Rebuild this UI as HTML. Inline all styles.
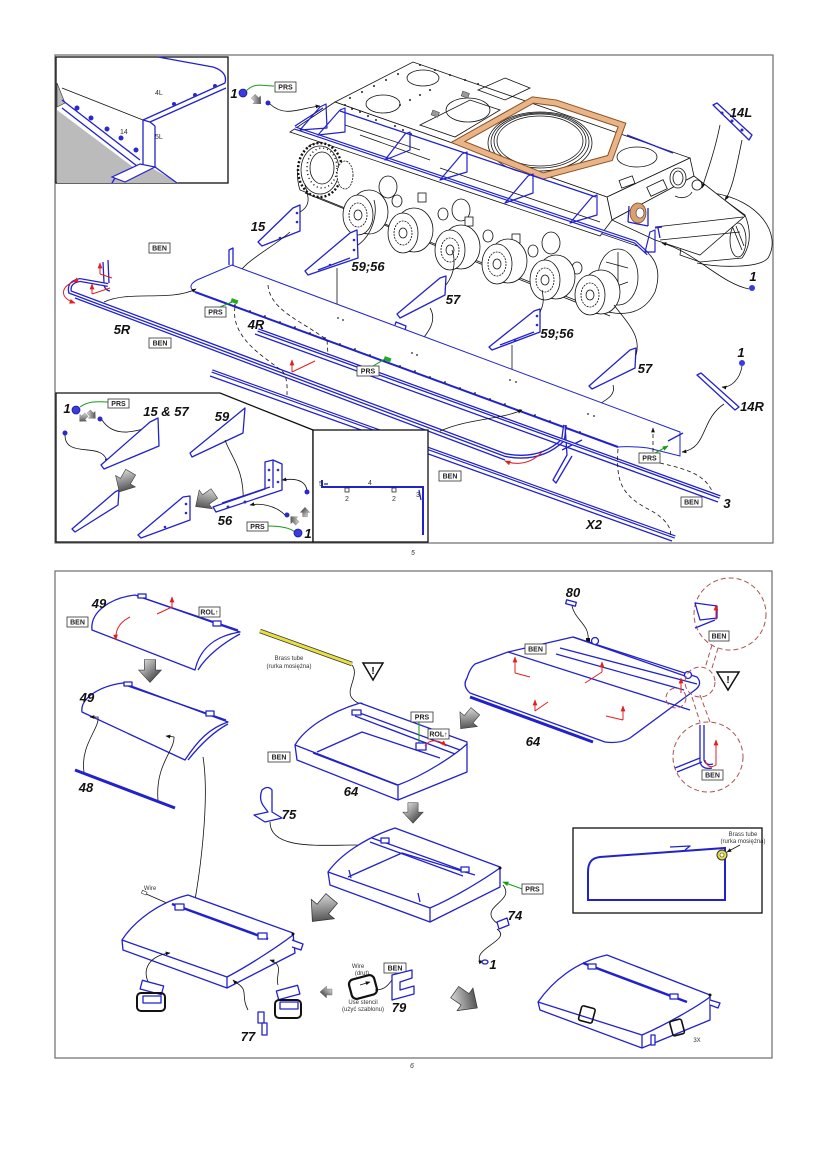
<!DOCTYPE html>
<html><head><meta charset="utf-8"><style>
html,body{margin:0;padding:0;background:#fff}
svg{display:block}
text{font-family:"Liberation Sans",sans-serif}
.L{font-weight:bold;font-style:italic;font-size:13px;fill:#111;text-anchor:middle}
.b{fill:#fff;stroke:#333;stroke-width:.8}
.bt{font-size:7px;font-weight:bold;text-anchor:middle;fill:#222}
.bl{fill:none;stroke:#2222cc;stroke-width:1.3;stroke-linejoin:round}
.bf{fill:#fff;stroke:#2222cc;stroke-width:1.3;stroke-linejoin:round}
.bn{fill:none;stroke:#2222cc;stroke-width:1.2;stroke-linejoin:round}
.bk{fill:none;stroke:#111;stroke-width:.8}
.kf{fill:#fff;stroke:#111;stroke-width:.8}
.ds{fill:none;stroke:#111;stroke-width:.8;stroke-dasharray:4 3}
.rd{fill:none;stroke:#e02020;stroke-width:1}
.gr{fill:none;stroke:#1a9a1a;stroke-width:1}
.ga{fill:url(#g);stroke:#333;stroke-width:.6}
.sm{font-size:6px;fill:#333;text-anchor:middle}
.cd{fill:none;stroke:#b05050;stroke-width:1;stroke-dasharray:5 3}
</style></head><body>
<svg width="827" height="1170" viewBox="0 0 827 1170" xmlns="http://www.w3.org/2000/svg">
<defs>
<linearGradient id="g" x1="0" y1="0" x2="1" y2="1"><stop offset="0" stop-color="#f2f2f2"/><stop offset="1" stop-color="#222"/></linearGradient>
<marker id="a" viewBox="0 0 10 10" refX="9" refY="5" markerWidth="6" markerHeight="6" orient="auto"><path d="M0,1 L10,5 L0,9 Z" fill="#111"/></marker>
<marker id="r" viewBox="0 0 10 10" refX="9" refY="5" markerWidth="6" markerHeight="6" orient="auto"><path d="M0,1 L10,5 L0,9 Z" fill="#e02020"/></marker>
<marker id="gm" viewBox="0 0 10 10" refX="9" refY="5" markerWidth="6" markerHeight="6" orient="auto"><path d="M0,1 L10,5 L0,9 Z" fill="#1a9a1a"/></marker>
</defs>

<!-- ================= TOP PANEL ================= -->
<rect x="55" y="55" width="718" height="488" fill="none" stroke="#777" stroke-width="1.3"/>

<!-- top-left inset -->
<rect x="56" y="57" width="172" height="126" fill="#fff" stroke="#111" stroke-width="1.3"/>
<polygon points="57,110 137,170 152,168 178,183 57,183" fill="#bbb"/>
<polygon points="57,83 65,103 57,107" fill="#bbb" stroke="#333" stroke-width=".6"/>
<path d="M62,88 L143,120" class="bk"/>
<path d="M65,104 L140,162" stroke="#fff" stroke-width="4" fill="none"/>
<path d="M62,100 L140,160 M62,108 L137,166" class="bl"/>
<g fill="#2a2acc"><circle cx="77" cy="108" r="2.5"/><circle cx="91" cy="118" r="2.5"/><circle cx="107" cy="129" r="2.5"/><circle cx="121" cy="138" r="2.5"/><circle cx="136" cy="150" r="2.5"/></g>
<path d="M143,120 L143,165 L115,178 L112,183 M155,126 L155,167 L177,183" class="bl"/>
<polygon points="112,177 140,164 155,167 125,182" fill="#fff" stroke="#2222cc" stroke-width="1.2"/>
<path d="M143,120 L225,83 Q228,72 213,67 L158,57 M150,122 L226,88" class="bl" stroke-width="1.8"/>
<path d="M143,120 L150,122 L155,126" class="bl"/>
<g fill="#2a2acc"><circle cx="174" cy="104" r="2"/><circle cx="195" cy="95" r="2"/><circle cx="215" cy="86" r="2"/></g>
<text x="155" y="95" font-size="7" fill="#333">4L</text>
<text x="120" y="134" font-size="7" fill="#333">14</text>
<text x="155" y="139" font-size="7" fill="#333">5L</text>

<!-- "1" nut top -->
<text x="234" y="98" class="L">1</text>
<circle cx="243" cy="93" r="4" fill="#3a3ae0" stroke="#1a1a90" stroke-width=".8"/>
<path d="M246,91 C255,82 262,86 274,86" class="gr"/>
<rect x="275" y="82" width="21" height="10" class="b"/><text x="285.5" y="89.5" class="bt">PRS</text>
<path transform="translate(257,100) rotate(-45) scale(.45)" d="M-6,-12 L6,-12 L6,-1 L12,-1 L0,12 L-12,-1 L-6,-1 Z" class="ga"/>
<circle cx="268" cy="103" r="2.5" fill="#2a2acc"/>
<path d="M270,104 C285,118 300,108 320,106" class="bk" marker-end="url(#a)"/>

<!-- ===== TANK ===== -->
<path d="M690,175 L745,215 Q755,240 742,258 L700,262 L680,255 Z" class="kf"/>
<path d="M713,193 C760,200 782,235 768,258 C760,268 720,268 697,263" class="bk"/>
<ellipse cx="738" cy="240" rx="8" ry="17" class="kf"/>
<path d="M733,228 L742,250 M736,226 L744,246" class="bk"/>
<path d="M310,145 Q292,165 300,190 L600,310 Q640,322 655,292 Q665,262 640,247 L330,140 Z" class="kf"/>
<path d="M305,193 L610,316" class="bk"/>
<polygon points="335,102 413,62 690,158 607,197" class="kf"/>
<polygon points="607,197 690,158 694,176 612,220" class="kf"/>
<polygon points="612,220 694,176 745,216 700,255 655,240" class="kf"/>
<path d="M655,227 L743,217 M660,240 L740,232" class="bk"/>
<polygon points="290,132 335,102 607,197 612,220 600,236" class="kf"/>
<ellipse cx="423" cy="78" rx="16" ry="8" class="kf"/>
<ellipse cx="383" cy="104" rx="17" ry="9" class="kf"/>
<ellipse cx="468" cy="110" rx="22" ry="12" class="kf"/>
<ellipse cx="637" cy="157" rx="20" ry="10" class="kf"/>
<polygon points="420,125 470,100 500,110 455,137" class="bk"/>
<polygon points="478,90 505,78 530,88 505,100" class="bk"/>
<path d="M345,125 L420,150 M360,135 L430,160 M440,168 L600,222" class="bk"/>
<rect x="462" y="92" width="7" height="5" fill="#999" stroke="#333" stroke-width=".5" transform="rotate(20 465 94)"/>
<rect x="432" y="111" width="7" height="5" fill="#999" stroke="#333" stroke-width=".5" transform="rotate(20 435 113)"/>
<g fill="#222">
<circle cx="345" cy="105" r="1"/><circle cx="352" cy="109" r="1"/><circle cx="360" cy="112" r="1"/><circle cx="368" cy="116" r="1"/><circle cx="376" cy="120" r="1"/><circle cx="395" cy="126" r="1"/><circle cx="403" cy="130" r="1"/><circle cx="411" cy="134" r="1"/>
<circle cx="350" cy="98" r="1"/><circle cx="362" cy="92" r="1"/><circle cx="374" cy="86" r="1"/><circle cx="386" cy="80" r="1"/><circle cx="398" cy="74" r="1"/>
<circle cx="420" cy="65" r="1"/><circle cx="435" cy="70" r="1"/><circle cx="450" cy="75" r="1"/><circle cx="465" cy="80" r="1"/><circle cx="478" cy="84" r="1"/>
<circle cx="400" cy="105" r="1"/><circle cx="410" cy="100" r="1"/><circle cx="420" cy="95" r="1"/><circle cx="430" cy="90" r="1"/>
</g>
<ellipse cx="540" cy="143" rx="52" ry="31" class="kf"/>
<ellipse cx="540" cy="142" rx="49" ry="29" class="bk"/>
<ellipse cx="540" cy="141" rx="46" ry="27" class="bk"/>
<ellipse cx="540" cy="141" rx="43" ry="25" class="bk"/>
<polygon points="458,142 533,100 556,103 622,125 610,158 543,176" fill="none" stroke="#8a5020" stroke-width="7" stroke-linejoin="miter"/>
<polygon points="458,142 533,100 556,103 622,125 610,158 543,176" fill="none" stroke="#e8b488" stroke-width="5" stroke-linejoin="miter"/>
<rect x="620" y="178" width="14" height="8" class="kf" transform="rotate(-20 627 182)"/>
<rect x="648" y="183" width="18" height="10" class="kf" transform="rotate(-25 657 188)"/>
<ellipse cx="678" cy="178" rx="8" ry="10" class="kf"/>
<ellipse cx="678" cy="178" rx="5" ry="7" class="bk"/>
<ellipse cx="697" cy="185" rx="5" ry="5" class="kf"/>
<path d="M675,196 C683,200 690,196 692,192" class="bk" stroke-width="1.6"/>
<ellipse cx="638" cy="213" rx="8" ry="10" fill="#d9a070" stroke="#7a4a20" stroke-width=".8"/>
<ellipse cx="640" cy="213" rx="4" ry="5" fill="#fff" stroke="#333" stroke-width=".6"/>
<path d="M628,222 L648,226 M629,206 L628,222 M648,208 L648,226" class="bl"/>
<!-- sprocket -->
<ellipse cx="320" cy="170" rx="22" ry="27" fill="#fff" stroke="#111" stroke-width="2.4" stroke-dasharray="2 2"/>
<ellipse cx="320" cy="170" rx="19" ry="24" class="kf"/>
<ellipse cx="322" cy="168" rx="12" ry="16" class="kf"/>
<ellipse cx="322" cy="168" rx="15" ry="20" fill="none" stroke="#111" stroke-width="1.5" stroke-dasharray="1 3"/>
<ellipse cx="345" cy="175" rx="8" ry="14" class="kf" stroke-dasharray="2 1"/>
<g class="kf">
<ellipse cx="388" cy="187" rx="9" ry="11"/><ellipse cx="461" cy="210" rx="9" ry="11"/><ellipse cx="551" cy="243" rx="9" ry="11"/>
<ellipse cx="397" cy="201" rx="5" ry="6"/><ellipse cx="443" cy="214" rx="5" ry="6"/><ellipse cx="488" cy="236" rx="5" ry="6"/><ellipse cx="533" cy="251" rx="5" ry="6"/><ellipse cx="577" cy="268" rx="5" ry="6"/>
<rect x="418" y="193" width="8" height="9"/><rect x="465" y="217" width="8" height="9"/><rect x="512" y="234" width="8" height="9"/>
</g>
<ellipse cx="618" cy="277" rx="20" ry="28" class="kf"/>
<path d="M606,262 L628,268 M606,290 L628,282 M618,252 L618,300" class="bk"/>
<g>
<ellipse cx="369" cy="212" rx="19" ry="22" class="kf" stroke-width="1"/><ellipse cx="358" cy="215" rx="15" ry="20" class="kf" stroke-width="1.2"/><ellipse cx="358" cy="215" rx="9" ry="12" class="kf" stroke-dasharray="2 1"/><ellipse cx="358" cy="215" rx="4" ry="5" class="kf"/>
<ellipse cx="414" cy="230" rx="19" ry="22" class="kf" stroke-width="1"/><ellipse cx="403" cy="233" rx="15" ry="20" class="kf" stroke-width="1.2"/><ellipse cx="403" cy="233" rx="9" ry="12" class="kf" stroke-dasharray="2 1"/><ellipse cx="403" cy="233" rx="4" ry="5" class="kf"/>
<ellipse cx="461" cy="247" rx="19" ry="22" class="kf" stroke-width="1"/><ellipse cx="450" cy="250" rx="15" ry="20" class="kf" stroke-width="1.2"/><ellipse cx="450" cy="250" rx="9" ry="12" class="kf" stroke-dasharray="2 1"/><ellipse cx="450" cy="250" rx="4" ry="5" class="kf"/>
<ellipse cx="508" cy="261" rx="19" ry="22" class="kf" stroke-width="1"/><ellipse cx="497" cy="264" rx="15" ry="20" class="kf" stroke-width="1.2"/><ellipse cx="497" cy="264" rx="9" ry="12" class="kf" stroke-dasharray="2 1"/><ellipse cx="497" cy="264" rx="4" ry="5" class="kf"/>
<ellipse cx="556" cy="277" rx="19" ry="22" class="kf" stroke-width="1"/><ellipse cx="545" cy="280" rx="15" ry="20" class="kf" stroke-width="1.2"/><ellipse cx="545" cy="280" rx="9" ry="12" class="kf" stroke-dasharray="2 1"/><ellipse cx="545" cy="280" rx="4" ry="5" class="kf"/>
<ellipse cx="601" cy="292" rx="19" ry="22" class="kf" stroke-width="1"/><ellipse cx="590" cy="295" rx="15" ry="20" class="kf" stroke-width="1.2"/><ellipse cx="590" cy="295" rx="9" ry="12" class="kf" stroke-dasharray="2 1"/><ellipse cx="590" cy="295" rx="4" ry="5" class="kf"/>
</g>
<!-- blue fenders on tank -->
<path d="M295,128 L635,242 L648,254" fill="none" stroke="#2222cc" stroke-width="3.4"/>
<path d="M295,128 L635,242 L648,254" fill="none" stroke="#fff" stroke-width="1"/>
<path d="M295,126 L323,108" class="bl" stroke-width="2"/>
<path d="M340,111 L596,197" class="bl"/>
<path d="M627,135 L673,153" class="bl"/>
<g class="bn">
<path d="M320,107 L326,104 L327,128 L300,130 Z"/>
<path d="M340,110 L345,108 L345,132 L318,135 Z"/>
<path d="M405,134 L410,132 L410,150 L385,160 Z"/>
<path d="M462,154 L467,152 L467,172 L440,180 Z"/>
<path d="M528,176 L533,174 L533,193 L505,203 Z"/>
<path d="M592,197 L597,195 L597,215 L570,223 Z"/>
<path d="M650,232 L655,230 L655,252 L645,252 Z"/>
</g>
<path d="M658,228 L660,238 M655,228 L662,227" class="bl"/>

<!-- 14L -->
<polygon points="713,105 717,103 752,135 749,140" class="bf"/>
<g fill="#2a2acc"><circle cx="722" cy="113" r="1.5"/><circle cx="732" cy="121" r="1.5"/><circle cx="742" cy="130" r="1.5"/></g>
<text x="741" y="117" class="L">14L</text>
<path d="M720,125 C715,150 708,170 702,188" class="bk" marker-end="url(#a)"/>
<path d="M742,140 C736,170 732,190 725,200" class="bk" marker-end="url(#a)"/>
<text x="753" y="281" class="L">1</text>
<circle cx="752" cy="288" r="3" fill="#3a3ae0"/>
<path d="M749,289 C720,283 695,252 662,243" class="bk" marker-end="url(#a)"/>

<!-- brackets -->
<polygon points="293,208 300,205 300,231 262,246 258,242" class="bf"/>
<g fill="#2a2acc"><circle cx="297" cy="213" r="1.3"/><circle cx="297" cy="222" r="1.3"/><circle cx="280" cy="238" r="1.3"/></g>
<text x="258" y="231" class="L">15</text>
<path d="M300,212 C312,205 308,195 305,185" class="bk"/>
<path d="M290,232 C270,250 240,262 233,283" class="bk" marker-end="url(#a)"/>

<polygon points="350,233 357,230 358,258 308,275 305,271" class="bf"/>
<path d="M318,270 L350,258" class="bl"/>
<g fill="#2a2acc"><circle cx="354" cy="240" r="1.3"/><circle cx="354" cy="250" r="1.3"/><circle cx="330" cy="265" r="1.3"/></g>
<text x="368" y="271" class="L">59;56</text>
<path d="M358,245 C372,235 378,215 374,200" class="bk"/>
<path d="M337,268 L337,312" class="bk" marker-end="url(#a)"/>

<polygon points="440,278 446,276 445,295 400,318 397,314" class="bf"/>
<text x="453" y="304" class="L">57</text>
<path d="M446,285 C456,272 455,258 452,250" class="bk"/>
<path d="M430,308 C440,325 420,340 414,350" class="bk" marker-end="url(#a)"/>

<polygon points="534,311 540,309 540,332 492,350 489,347" class="bf"/>
<path d="M500,345 L534,332" class="bl"/>
<g fill="#2a2acc"><circle cx="537" cy="316" r="1.3"/><circle cx="537" cy="325" r="1.3"/><circle cx="515" cy="340" r="1.3"/></g>
<text x="557" y="338" class="L">59;56</text>
<path d="M540,312 C545,302 543,296 542,290" class="bk"/>
<path d="M512,345 L512,375" class="bk" marker-end="url(#a)"/>

<polygon points="630,350 636,348 635,368 592,389 589,386" class="bf"/>
<text x="645" y="373" class="L">57</text>
<path d="M636,355 C642,335 625,320 614,305" class="bk"/>
<path d="M613,385 C617,398 600,402 587,412" class="bk" marker-end="url(#a)"/>

<polygon points="697,375 701,373 739,407 735,410" class="bf"/>
<text x="741" y="357" class="L">1</text>
<circle cx="742" cy="363" r="3" fill="#3a3ae0"/>
<path d="M742,366 C740,380 730,388 722,387" class="bk" marker-end="url(#a)"/>
<text x="752" y="411" class="L">14R</text>
<path d="M724,404 C700,420 708,448 682,452" class="bk" marker-end="url(#a)"/>

<!-- 4R fender plate -->
<path d="M197,280 L232,265 L680,432 L680,456 L648,448 Q630,446 618,447 L195,292 Q186,286 197,280 Z" fill="#fff" stroke="#2222cc" stroke-width="1"/>
<path d="M195,292 L618,447" stroke="#2222cc" stroke-width="2" fill="none"/>
<path d="M229,265 L229,250 L233,248 L233,266" class="bl"/>
<path d="M395,325 L396,322 L406,326 L405,330" class="bl"/>
<path d="M668,441 L683,433" class="bl"/>
<g fill="#222">
<circle cx="235" cy="305" r=".9"/><circle cx="250" cy="311" r=".9"/><circle cx="265" cy="316" r=".9"/><circle cx="280" cy="322" r=".9"/><circle cx="295" cy="327" r=".9"/><circle cx="310" cy="333" r=".9"/><circle cx="325" cy="338" r=".9"/><circle cx="340" cy="344" r=".9"/><circle cx="355" cy="349" r=".9"/><circle cx="370" cy="355" r=".9"/><circle cx="385" cy="360" r=".9"/><circle cx="400" cy="366" r=".9"/><circle cx="415" cy="371" r=".9"/><circle cx="430" cy="377" r=".9"/><circle cx="445" cy="382" r=".9"/><circle cx="460" cy="388" r=".9"/><circle cx="475" cy="393" r=".9"/><circle cx="490" cy="399" r=".9"/><circle cx="505" cy="404" r=".9"/><circle cx="520" cy="410" r=".9"/><circle cx="535" cy="415" r=".9"/><circle cx="550" cy="421" r=".9"/><circle cx="565" cy="426" r=".9"/><circle cx="580" cy="432" r=".9"/>
<circle cx="338" cy="318" r=".9"/><circle cx="343" cy="320" r=".9"/><circle cx="412" cy="353" r=".9"/><circle cx="417" cy="355" r=".9"/><circle cx="510" cy="380" r=".9"/><circle cx="516" cy="382" r=".9"/><circle cx="588" cy="414" r=".9"/><circle cx="594" cy="416" r=".9"/>
</g>
<rect x="231" y="299" width="7" height="4" fill="#2a2" transform="rotate(20 234 301)"/>
<rect x="384" y="357" width="7" height="4" fill="#2a2" transform="rotate(20 387 359)"/>
<text x="256" y="329" class="L">4R</text>
<rect x="205" y="307" width="21" height="10" class="b"/><text x="215.5" y="314.5" class="bt">PRS</text>
<path d="M220,307 L232,302" class="gr"/>

<!-- 5R bar -->
<path d="M103,262 L104,283 Q104,290 110,291 M108,260 L109,283" class="bl"/>
<path d="M108,285 L80,280 Q68,282 70,292 L505,455 Q540,462 563,440 L565,425" fill="none" stroke="#2222cc" stroke-width="4"/>
<path d="M108,285 L80,280 Q68,282 70,292 L505,455 Q540,462 563,440 L565,425" fill="none" stroke="#fff" stroke-width="1.4"/>
<path d="M75,298 L505,460" class="bl"/>
<path d="M565,425 L567,455 L553,480 L556,483 L572,456" class="bf"/>
<path d="M562,450 L582,440" class="bl"/>
<text x="122" y="334" class="L">5R</text>
<rect x="149" y="243" width="21" height="10" class="b"/><text x="159.5" y="250.5" class="bt">BEN</text>
<rect x="149" y="338" width="22" height="10" class="b"/><text x="160" y="345.5" class="bt">BEN</text>
<path d="M104,302 C130,290 170,302 196,289" class="bk" marker-end="url(#a)"/>
<path d="M73,282 C60,288 60,298 75,303" class="rd" marker-end="url(#r)" marker-start="url(#r)"/>
<path d="M92,294 L92,284" class="rd" marker-end="url(#r)"/><path d="M92,294 L110,288" class="rd"/>
<path d="M100,274 L100,263" class="rd" marker-end="url(#r)"/><path d="M100,274 L112,278" class="rd"/>

<!-- 4R lower strip -> 3 -->
<path d="M258,330 L720,497" fill="none" stroke="#2222cc" stroke-width="3.6"/>
<path d="M258,330 L720,497" fill="none" stroke="#fff" stroke-width="1"/>
<path d="M255,334 L718,502" class="bl"/>
<text x="727" y="508" class="L">3</text>
<rect x="681" y="497" width="21" height="10" class="b"/><text x="691.5" y="504.5" class="bt">BEN</text>
<path d="M212,371 L675,537" fill="none" stroke="#2222cc" stroke-width="3.4"/>
<path d="M212,371 L675,537" fill="none" stroke="#fff" stroke-width="1"/>
<path d="M210,376 L672,541" class="bl"/>
<text x="594" y="529" class="L" font-size="11">X2</text>
<rect x="357" y="366" width="22" height="10" class="b"/><text x="368" y="373.5" class="bt">PRS</text>
<path d="M373,366 L385,359" class="gr"/>
<path d="M292,372 L292,360" class="rd" marker-end="url(#r)"/><path d="M292,372 L315,361" class="rd"/>
<path d="M403,447 L405,434" class="rd" marker-end="url(#r)"/><path d="M395,446 L398,437 M395,446 L410,447" class="rd"/>
<path d="M542,452 C530,465 515,465 505,461" class="rd" marker-end="url(#r)"/>
<text x="405" y="465" class="L">2</text>
<rect x="439" y="471" width="22" height="10" class="b"/><text x="450" y="478.5" class="bt">BEN</text>
<rect x="639" y="453" width="21" height="10" class="b"/><text x="649.5" y="460.5" class="bt">PRS</text>
<path d="M655,453 L668,446" class="gr" marker-end="url(#gm)"/>
<path d="M440,431 C470,418 500,420 522,410" class="bk" marker-end="url(#a)"/>
<path d="M235,307 C230,340 270,360 283,372 C288,380 287,388 287,395" class="ds"/>
<path d="M268,285 C270,310 300,320 327,340 L328,355" class="ds"/>
<path d="M618,449 C616,480 620,495 650,510 C668,520 672,530 670,536" class="ds"/>
<path d="M653,452 L653,428" class="ds" marker-end="url(#a)"/>
<path d="M660,463 C690,470 705,475 713,493" class="ds"/>

<!-- bottom-left inset -->
<path d="M56,393 L220,393 L313,430 L313,542 L56,542 Z" fill="#fff" stroke="#111" stroke-width="1.3"/>
<rect x="313" y="430" width="115" height="112" fill="#fff" stroke="#111" stroke-width="1.3"/>
<text x="67" y="413" class="L">1</text>
<circle cx="76" cy="410" r="4" fill="#3a3ae0" stroke="#1a1a90" stroke-width=".8"/>
<path d="M80,407 C90,400 100,402 108,402" class="gr"/>
<rect x="108" y="399" width="21" height="9" class="b"/><text x="118.5" y="406" class="bt">PRS</text>
<path transform="translate(83,418) rotate(45) scale(.4)" d="M-6,-12 L6,-12 L6,-1 L12,-1 L0,12 L-12,-1 L-6,-1 Z" class="ga"/>
<path transform="translate(92,415) rotate(-45) scale(.4)" d="M-6,-12 L6,-12 L6,-1 L12,-1 L0,12 L-12,-1 L-6,-1 Z" class="ga"/>
<circle cx="65" cy="433" r="2.5" fill="#2a2acc"/>
<circle cx="100" cy="419" r="2.5" fill="#2a2acc"/>
<path d="M65,435 C65,460 105,440 107,463" class="bk" marker-end="url(#a)"/>
<path d="M102,420 C115,440 140,430 153,426" class="bk" marker-end="url(#a)"/>
<text x="166" y="416" class="L">15 &amp; 57</text>
<polygon points="150,422 158,418 159,446 104,469 101,465" class="bf"/>
<polygon points="115,492 119,490 118,505 75,532 72,529" class="bf"/>
<path transform="translate(125,482) rotate(30) scale(.95)" d="M-6,-12 L6,-12 L6,-1 L12,-1 L0,12 L-12,-1 L-6,-1 Z" class="ga"/>
<text x="222" y="421" class="L">59</text>
<polygon points="245,408 243,433 192,457 190,453" class="bf"/>
<path d="M225,440 C230,455 245,470 243,502" class="bk" marker-end="url(#a)"/>
<polygon points="183,497 190,496 190,520 141,538 138,535" class="bf"/>
<g fill="#2a2acc"><circle cx="186" cy="504" r="1.3"/><circle cx="186" cy="513" r="1.3"/><circle cx="165" cy="527" r="1.3"/></g>
<path transform="translate(205,500) rotate(55) scale(.95)" d="M-6,-12 L6,-12 L6,-1 L12,-1 L0,12 L-12,-1 L-6,-1 Z" class="ga"/>
<polygon points="265,462 273,460 282,464 282,490 216,512 213,507 265,489" class="bf"/>
<path d="M273,460 L273,488 M222,503 L270,487" class="bl"/>
<g fill="#2a2acc"><circle cx="269" cy="470" r="1.3"/><circle cx="269" cy="480" r="1.3"/><circle cx="278" cy="470" r="1.3"/><circle cx="278" cy="482" r="1.3"/><circle cx="228" cy="507" r="1.5"/><circle cx="245" cy="502" r="1.5"/></g>
<text x="225" y="525" class="L">56</text>
<circle cx="307" cy="492" r="2.5" fill="#2a2acc"/>
<path d="M307,490 C305,480 295,478 282,480" class="bk" marker-end="url(#a)"/>
<circle cx="287" cy="515" r="2.5" fill="#2a2acc"/>
<path d="M285,515 C275,505 260,503 250,505" class="bk" marker-end="url(#a)"/>
<path transform="translate(305,512) rotate(180) scale(.4)" d="M-6,-12 L6,-12 L6,-1 L12,-1 L0,12 L-12,-1 L-6,-1 Z" class="ga"/>
<path transform="translate(294,520) rotate(135) scale(.4)" d="M-6,-12 L6,-12 L6,-1 L12,-1 L0,12 L-12,-1 L-6,-1 Z" class="ga"/>
<rect x="247" y="522" width="21" height="9" class="b"/><text x="257.5" y="529" class="bt">PRS</text>
<path d="M268,526 C280,526 290,528 295,532" class="gr"/>
<circle cx="298" cy="533" r="4" fill="#3a3ae0" stroke="#1a1a90" stroke-width=".8"/>
<text x="308" y="538" class="L">1</text>
<path d="M322,480 L322,487 L423,487 L423,535" fill="none" stroke="#2222cc" stroke-width="2"/>
<path d="M324,484 L328,484 M419,490 L421,500" class="bl"/>
<rect x="345" y="488" width="4" height="4" fill="none" stroke="#111" stroke-width=".7"/>
<rect x="392" y="488" width="4" height="4" fill="none" stroke="#111" stroke-width=".7"/>
<text x="319" y="486" font-size="7" fill="#333">5</text>
<text x="368" y="485" font-size="7" fill="#333">4</text>
<text x="345" y="501" font-size="7" fill="#333">2</text>
<text x="392" y="501" font-size="7" fill="#333">2</text>
<text x="416" y="497" font-size="7" fill="#333">3</text>
<text x="413" y="555" font-size="7" fill="#333" text-anchor="middle" font-style="italic">5</text>

<!-- ================= BOTTOM PANEL ================= -->
<rect x="55" y="571" width="717" height="487" fill="none" stroke="#777" stroke-width="1.3"/>
<text x="412" y="1068" font-size="7" fill="#333" text-anchor="middle" font-style="italic">6</text>

<!-- 49 top -->
<path d="M135,595 L240,632 C215,636 200,648 195,670 L92,630 C90,612 110,598 135,595 Z" class="bf" stroke-width="1"/>
<path d="M240,634 C225,642 207,655 198,670" class="bl" stroke-width="1"/>
<path d="M140,597 L238,630" class="bl" stroke-width="1.8"/>
<rect x="138" y="594" width="8" height="4" class="bf" stroke-width="1"/>
<rect x="213" y="621" width="8" height="5" class="bf" stroke-width="1"/>
<text x="99" y="608" class="L">49</text>
<rect x="67" y="617" width="21" height="10" class="b"/><text x="77.5" y="624.5" class="bt">BEN</text>
<rect x="199" y="607" width="21" height="10" class="b"/><text x="209.5" y="614.5" class="bt">ROL↑</text>
<path d="M130,617 C120,622 115,630 116,640" class="rd" marker-end="url(#r)"/>
<path d="M157,614 L172,607 L172,597" class="rd" marker-end="url(#r)"/>
<path transform="translate(150,671) scale(.95)" d="M-6,-12 L6,-12 L6,-1 L12,-1 L0,12 L-12,-1 L-6,-1 Z" class="ga"/>
<!-- 49 second -->
<path d="M123,683 L228,722 C210,728 198,740 185,760 L82,712 C80,698 100,686 123,683 Z" class="bf" stroke-width="1"/>
<path d="M228,724 C213,732 200,745 188,760" class="bl" stroke-width="1"/>
<path d="M125,685 L226,720" class="bl" stroke-width="1.8"/>
<rect x="124" y="682" width="8" height="4" class="bf" stroke-width="1"/>
<rect x="206" y="711" width="8" height="5" class="bf" stroke-width="1"/>
<text x="87" y="702" class="L">49</text>
<path d="M75,770 L175,808" stroke="#2222cc" stroke-width="3" fill="none"/>
<text x="86" y="792" class="L">48</text>
<path d="M84,772 C80,745 100,728 98,717 L90,717" class="bk" marker-end="url(#a)"/>
<path d="M158,800 C155,765 175,750 174,737 L166,736" class="bk" marker-end="url(#a)"/>
<path d="M203,757 C210,800 200,880 190,925" class="bk" marker-end="url(#a)"/>

<!-- brass tube -->
<path d="M260,631 L352,664" stroke="#333" stroke-width="4.5" fill="none"/>
<path d="M260,631 L352,664" stroke="#e8e040" stroke-width="3" fill="none"/>
<text x="289" y="660" class="sm">Brass tube</text>
<text x="289" y="668" class="sm">(rurka mosiężna)</text>
<path d="M352,665 C360,675 345,690 352,698 C356,703 360,704 365,705" class="bk" marker-end="url(#a)"/>
<polygon points="363,663 383,663 373,680" fill="#fff" stroke="#111" stroke-width="1.5"/>
<text x="373" y="674" font-size="10" font-weight="bold" text-anchor="middle">!</text>

<!-- 64 box middle -->
<path d="M360,703 L467,742 L467,772 L398,800 L297,760 L295,745 C305,728 330,712 360,703 Z" class="bf" stroke-width="1"/>
<path d="M295,745 L398,785 C425,775 455,755 467,744 M398,785 L398,800" class="bl" stroke-width="1"/>
<path d="M313,753 L397,785" class="bl" stroke-width="2.4"/>
<path d="M317,752 L362,732 L440,758" class="bl" stroke-width="1"/>
<path d="M357,712 L460,750 M355,716 L455,754" class="bl" stroke-width="1"/>
<rect x="352" y="710" width="9" height="5" class="bf" stroke-width="1"/>
<path d="M419,722 L419,745" class="gr"/>
<rect x="416" y="743" width="10" height="7" class="bf" stroke-width="1.5"/>
<rect x="411" y="712" width="22" height="10" class="b"/><text x="422" y="719.5" class="bt">PRS</text>
<rect x="428" y="729" width="21" height="10" class="b"/><text x="438.5" y="736.5" class="bt">ROL↑</text>
<path d="M425,746 C430,738 440,740 446,746" class="rd" marker-end="url(#r)"/>
<rect x="268" y="752" width="22" height="10" class="b"/><text x="279" y="759.5" class="bt">BEN</text>
<text x="351" y="796" class="L">64</text>
<path transform="translate(468,720) rotate(40) scale(.95)" d="M-6,-12 L6,-12 L6,-1 L12,-1 L0,12 L-12,-1 L-6,-1 Z" class="ga"/>

<!-- 64 plate right -->
<text x="573" y="597" class="L" font-size="11">80</text>
<rect x="566" y="601" width="10" height="4" class="bf" stroke-width="1" transform="rotate(15 571 603)"/>
<path d="M572,606 C575,620 590,625 588,640" class="bk"/>
<rect x="586" y="638" width="4" height="5" fill="#111"/>
<path d="M475,664 L508,652 L573,637 L697,677 Q703,684 695,690 L630,738 Q620,744 605,742 L470,693 Q462,686 467,678 Q470,668 475,664 Z" class="bf" stroke-width="1"/>
<path d="M470,697 L593,742" stroke="#2222cc" stroke-width="3" fill="none"/>
<path d="M560,648 L697,684 M556,654 L684,690 M508,652 L690,710" class="bl" stroke-width="1"/>
<path d="M573,637 L685,676" class="bl" stroke-width="2"/>
<circle cx="595" cy="641" r="3.5" class="bf"/>
<circle cx="688" cy="675" r="3.5" class="bf"/>
<rect x="525" y="644" width="21" height="10" class="b"/><text x="535.5" y="651.5" class="bt">BEN</text>
<text x="533" y="746" class="L">64</text>
<g class="rd">
<path d="M515,673 L515,657" marker-end="url(#r)"/><path d="M515,673 L530,677"/>
<path d="M602,672 L602,662" marker-end="url(#r)"/><path d="M602,672 L585,683"/>
<path d="M535,711 L535,700" marker-end="url(#r)"/><path d="M535,711 L548,702"/>
<path d="M623,720 L623,706" marker-end="url(#r)"/><path d="M623,720 L606,716"/>
<path d="M681,693 L681,678" marker-end="url(#r)"/>
</g>
<circle cx="730" cy="614" r="36" class="cd"/>
<circle cx="708" cy="757" r="35" class="cd"/>
<circle cx="700" cy="682" r="15" class="cd"/>
<circle cx="676" cy="698" r="10" class="cd"/>
<path d="M712,645 L705,668 M718,648 L712,668 M692,697 L700,722 M700,695 L710,722" class="cd"/>
<path d="M695,603 L700,620 L717,618 L717,606 Z" class="bf" stroke-width="1"/>
<path d="M695,628 L715,620" class="bl"/>
<path d="M716,620 L716,605" class="rd" marker-end="url(#r)"/>
<rect x="709" y="631" width="20" height="10" class="b"/><text x="719" y="638.5" class="bt">BEN</text>
<polygon points="717,672 739,672 728,690" fill="#fff" stroke="#111" stroke-width="1.5"/>
<text x="728" y="683" font-size="10" font-weight="bold" text-anchor="middle">!</text>
<path d="M700,725 L700,762 Q702,770 712,768 M704,725 L704,760 Q706,766 713,764" class="bl"/>
<path d="M705,760 Q708,770 716,765 L716,740" class="rd" marker-end="url(#r)"/>
<path d="M675,768 L700,758 M677,772 L702,762" class="bl" stroke-width="1"/>
<rect x="702" y="770" width="21" height="10" class="b"/><text x="712.5" y="777.5" class="bt">BEN</text>

<!-- 75 -->
<path d="M262,790 Q258,800 265,808 L268,812 L254,815 L265,822 L282,818 L272,812 L272,790 Q268,785 262,790 Z" class="bf"/>
<text x="289" y="819" class="L">75</text>
<path d="M270,822 C270,850 320,845 355,845 C370,845 360,865 357,872" class="bk" marker-end="url(#a)"/>
<path transform="translate(413,813) scale(.85)" d="M-6,-12 L6,-12 L6,-1 L12,-1 L0,12 L-12,-1 L-6,-1 Z" class="ga"/>

<!-- 64 lower box -->
<path d="M395,828 L500,867 L500,887 L430,922 L330,885 L328,872 C340,855 365,838 395,828 Z" class="bf" stroke-width="1"/>
<path d="M328,872 L430,908 C460,895 490,875 500,868 M430,908 L430,922" class="bl" stroke-width="1"/>
<path d="M348,877 L402,853 L475,875" class="bl" stroke-width="1"/>
<path d="M372,838 L467,872 M370,842 L463,876" class="bl" stroke-width="1"/>
<rect x="381" y="838" width="8" height="5" class="bf" stroke-width="1"/>
<rect x="461" y="867" width="8" height="5" class="bf" stroke-width="1"/>
<path d="M349,870 L351,878 M418,893 L420,902" class="bl" stroke-width="2"/>
<circle cx="500" cy="868" r="1.5" fill="#111"/>
<path d="M525,890 L503,882" class="gr" marker-end="url(#gm)"/>
<rect x="522" y="884" width="21" height="10" class="b"/><text x="532.5" y="891.5" class="bt">PRS</text>
<path d="M503,885 C515,900 485,905 492,918 C497,925 500,924 505,926" class="bk" marker-end="url(#a)"/>
<path d="M497,922 L507,918 L509,925 L499,929 Z" class="bf" stroke-width="1"/>
<text x="515" y="920" class="L">74</text>
<path d="M497,929 C510,938 485,945 480,955 C478,960 480,962 483,961" class="bk" marker-end="url(#a)"/>
<ellipse cx="485" cy="962" rx="3" ry="2" class="bf" stroke-width="1"/>
<text x="493" y="969" class="L">1</text>

<!-- final left box -->
<path transform="translate(322,910) rotate(40) scale(1.25)" d="M-6,-12 L6,-12 L6,-1 L12,-1 L0,12 L-12,-1 L-6,-1 Z" class="ga"/>
<text x="150" y="890" font-size="6" fill="#333" text-anchor="middle">Wire</text>
<path d="M144,893 L178,908" class="bk" marker-end="url(#a)"/>
<rect x="142" y="891" width="5" height="3" fill="#fff" stroke="#111" stroke-width=".5" transform="rotate(25 144 892)"/>
<path d="M188,895 L293,933 L295,953 L227,988 L123,950 L122,940 C135,920 160,902 188,895 Z" class="bf" stroke-width="1"/>
<path d="M122,940 L227,977 C250,965 280,945 293,935 M227,977 L227,988" class="bl" stroke-width="1"/>
<path d="M172,904 L268,939" stroke="#2222cc" stroke-width="2.5" fill="none"/>
<rect x="175" y="904" width="9" height="6" class="bf" stroke-width="1"/>
<rect x="258" y="933" width="9" height="6" class="bf" stroke-width="1"/>
<circle cx="293" cy="934" r="1.5" fill="#111"/>
<path d="M292,940 L303,944 L301,950 L292,947" class="bf" stroke-width="1"/>
<path d="M150,985 C140,970 150,955 170,953" class="bk" marker-end="url(#a)"/>
<path d="M248,1010 C240,995 250,990 235,982 L233,980" class="bk" marker-end="url(#a)"/>
<path d="M278,985 C275,975 285,965 270,960" class="bk" marker-end="url(#a)"/>
<rect x="141" y="983" width="22" height="9" class="bf" stroke-width="1" transform="rotate(15 152 987)"/>
<rect x="137" y="993" width="28" height="18" rx="4" fill="none" stroke="#111" stroke-width="2"/>
<rect x="143" y="996" width="18" height="7" class="bf" stroke-width="1"/>
<rect x="277" y="988" width="22" height="9" class="bf" stroke-width="1" transform="rotate(-15 288 992)"/>
<rect x="275" y="1000" width="26" height="18" rx="4" fill="none" stroke="#111" stroke-width="2"/>
<rect x="280" y="1002" width="18" height="7" class="bf" stroke-width="1"/>
<rect x="258" y="1012" width="6" height="11" class="bf" stroke-width="1"/>
<rect x="262" y="1023" width="5" height="12" class="bf" stroke-width="1"/>
<text x="248" y="1041" class="L">77</text>
<path transform="translate(326,992) rotate(90) scale(.5)" d="M-6,-12 L6,-12 L6,-1 L12,-1 L0,12 L-12,-1 L-6,-1 Z" class="ga"/>
<text x="358" y="968" class="sm">Wire</text>
<text x="362" y="975" class="sm">(drut)</text>
<rect x="350" y="977" width="26" height="20" rx="5" fill="none" stroke="#111" stroke-width="2.2" transform="rotate(-15 363 987)"/>
<path d="M360,985 L370,982" class="bk" marker-end="url(#a)"/>
<path d="M375,990 C385,990 388,985 392,980" class="bk"/>
<rect x="384" y="963" width="22" height="10" class="b"/><text x="395" y="970.5" class="bt">BEN</text>
<path d="M392,975 L412,970 L412,978 L400,982 L400,990 L414,986 L414,994 L392,1000 Z" class="bf" stroke-width="1"/>
<text x="363" y="1004" class="sm">Use stencil</text>
<text x="363" y="1011" class="sm">(użyć szablonu)</text>
<text x="399" y="1012" class="L">79</text>
<path transform="translate(466,1000) rotate(-55) scale(1.15)" d="M-6,-12 L6,-12 L6,-1 L12,-1 L0,12 L-12,-1 L-6,-1 Z" class="ga"/>

<!-- inset bottom -->
<rect x="573" y="828" width="189" height="85" fill="#fff" stroke="#111" stroke-width="1.3"/>
<path d="M588,900 L588,872 C588,862 592,858 600,857 L725,848 L725,900 Z" fill="none" stroke="#2222cc" stroke-width="2"/>
<path d="M670,847 L690,846 L685,850" class="bl"/>
<circle cx="722" cy="855" r="5" fill="#e8e040" stroke="#333" stroke-width="1"/>
<circle cx="722" cy="855" r="2" fill="#fff" stroke="#333" stroke-width=".6"/>
<path d="M740,845 L727,852" class="bk" marker-end="url(#a)"/>
<text x="743" y="836" class="sm">Brass tube</text>
<text x="743" y="843" class="sm">(rurka mosiężna)</text>

<!-- final right box -->
<path d="M607,955 L710,995 L710,1020 L642,1048 L540,1010 L538,1002 C552,982 575,962 607,955 Z" class="bf" stroke-width="1"/>
<path d="M538,1002 L642,1035 C665,1025 695,1008 710,997 M642,1035 L642,1048" class="bl" stroke-width="1"/>
<path d="M583,963 L687,1002" stroke="#2222cc" stroke-width="2.5" fill="none"/>
<rect x="588" y="964" width="8" height="5" class="bf" stroke-width="1"/>
<rect x="670" y="994" width="8" height="5" class="bf" stroke-width="1"/>
<circle cx="710" cy="995" r="1.5" fill="#111"/>
<path d="M710,1000 L720,1003 L718,1008 L710,1005" class="bf" stroke-width="1"/>
<rect x="580" y="1007" width="14" height="15" rx="2" fill="none" stroke="#111" stroke-width="1.6" transform="rotate(15 587 1014)"/>
<rect x="671" y="1020" width="12" height="15" rx="2" fill="none" stroke="#111" stroke-width="1.6" transform="rotate(-15 677 1027)"/>
<rect x="651" y="1035" width="4" height="10" class="bf" stroke-width="1"/>
<text x="697" y="1042" font-size="6" fill="#333" text-anchor="middle">3X</text>
</svg>
</body></html>
